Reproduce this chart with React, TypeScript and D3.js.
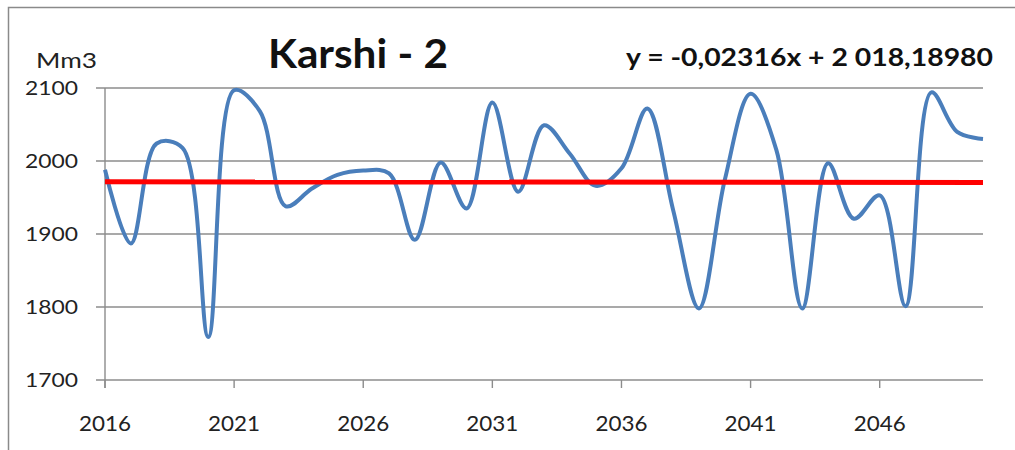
import React from "react";
import * as d3 from "d3";

// Karshi - 2, annual volume (Mm3), 2016-2050
const years = d3.range(2016, 2051);
const volumes = [
  1988, 1887, 2024, 2018, 1759, 2097, 2068, 1938, 1962, 1981,
  1987, 1983, 1892, 1998, 1935, 2080, 1958, 2049, 2010, 1966,
  1990, 2072, 1933, 1798, 1974, 2092, 2015, 1798, 1997, 1921,
  1953, 1801, 2094, 2040, 2030,
];
const yTicks = [1700, 1800, 1900, 2000, 2100];
const xTicks = [2016, 2021, 2026, 2031, 2036, 2041, 2046];
// trend line y = a*x + b (x = year)
const slope = -0.02316;
const intercept = 2018.1898;

const W = 1015;
const H = 450;
const FONT = "Lato, 'Liberation Sans', Arial, sans-serif";

export default function App() {
  const x = d3.scaleLinear().domain([2016, 2050]).range([105, 983]);
  const y = d3.scaleLinear().domain([1700, 2100]).range([380, 88]);

  const line = d3
    .line<number>()
    .x((d, i) => x(years[i]))
    .y((d) => y(d))
    .curve(d3.curveCatmullRom.alpha(0.5));

  const trend = d3
    .line<number>()
    .x((d) => x(d))
    .y((d) => y(slope * d + intercept));

  const gridColor = "#8c8c8c";

  return (
    <svg
      width={W}
      height={H}
      style={{ position: "absolute", left: 0, top: 0, background: "#fff" }}
    >
      {/* chart frame */}
      <rect x={8.5} y={7.5} width={W + 20} height={H + 20} fill="none" stroke="#8a8a8a" strokeWidth={1.5} />

      {/* grid + y ticks */}
      {yTicks.map((t) => (
        <g key={t}>
          <line x1={96} x2={983} y1={y(t)} y2={y(t)} stroke={gridColor} strokeWidth={1.4} />
          <text
            x={78}
            y={y(t) + 7}
            textAnchor="end"
            fontFamily={FONT}
            fontSize={20}
            fill="#222"
            textLength={53}
            lengthAdjust="spacingAndGlyphs"
          >
            {t}
          </text>
        </g>
      ))}

      {/* y axis */}
      <line x1={105} x2={105} y1={88} y2={388} stroke={gridColor} strokeWidth={1.4} />

      {/* x ticks */}
      {xTicks.map((t) => (
        <g key={t}>
          <line x1={x(t)} x2={x(t)} y1={380} y2={388} stroke={gridColor} strokeWidth={1.4} />
          <text
            x={x(t)}
            y={431}
            textAnchor="middle"
            fontFamily={FONT}
            fontSize={22}
            fill="#222"
            textLength={52}
            lengthAdjust="spacingAndGlyphs"
          >
            {t}
          </text>
        </g>
      ))}

      {/* series */}
      <path d={line(volumes) ?? ""} fill="none" stroke="#4a7ebb" strokeWidth={4} strokeLinejoin="round" />

      {/* trend */}
      <path d={trend([2016, 2050]) ?? ""} fill="none" stroke="#ff0000" strokeWidth={5} />

      {/* titles */}
      <text x={36} y={68} fontFamily={FONT} fontSize={21} fill="#222" textLength={61} lengthAdjust="spacingAndGlyphs">
        Mm3
      </text>
      <text
        x={358}
        y={68}
        textAnchor="middle"
        fontFamily={FONT}
        fontSize={40}
        fontWeight="bold"
        fill="#111"
        textLength={180}
        lengthAdjust="spacingAndGlyphs"
      >
        Karshi - 2
      </text>
      <text
        x={993}
        y={66}
        textAnchor="end"
        fontFamily={FONT}
        fontSize={24}
        fontWeight="bold"
        fill="#111"
        textLength={367}
        lengthAdjust="spacingAndGlyphs"
      >
        y = -0,02316x + 2 018,18980
      </text>
    </svg>
  );
}
